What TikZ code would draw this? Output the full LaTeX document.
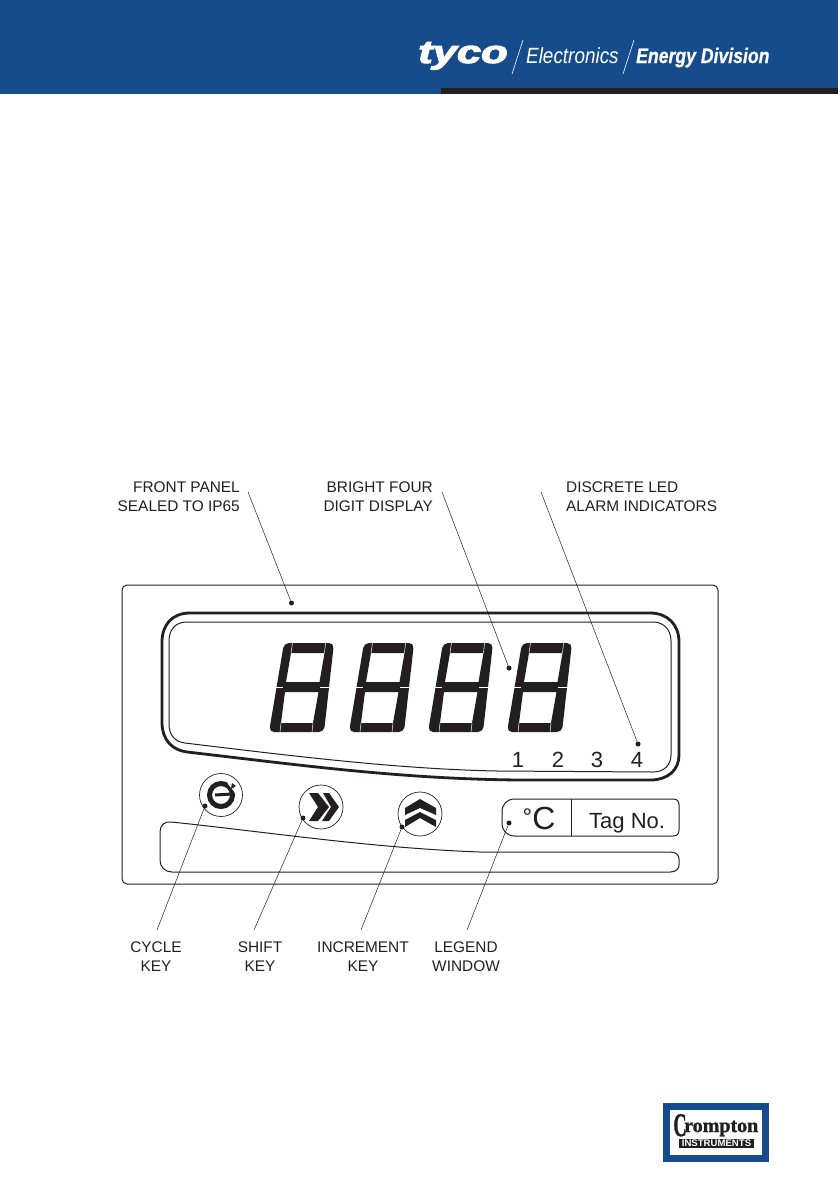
\documentclass[tikz,border=0pt]{standalone}
\usepackage{fontspec}
\setmainfont{Liberation Sans}
\newfontfamily\logoserif[UprightFont=* Bold,FakeBold=1.5]{Liberation Serif}
\newfontfamily\tycofont[UprightFont=* Bold Italic,FakeBold=3]{Liberation Sans}
\newfontfamily\energyfont[UprightFont=* Bold Italic,FakeBold=0.8]{Liberation Sans}
\definecolor{tycoblue}{RGB}{23,76,140}
\definecolor{inkblack}{RGB}{35,31,32}
\tikzset{
    calltext/.style={inner sep=0pt,text=inkblack,font=\fontsize{15.4}{19}\selectfont},
    leader/.style={draw=inkblack,line width=0.5pt},
    leaddot/.style={circle,fill=inkblack,inner sep=0pt,minimum size=5pt},
    keyring/.style={draw=inkblack,line width=0.7pt},
    panelline/.style={draw=inkblack,line width=1pt},
    paneltext/.style={inner sep=0pt,text=inkblack},
    logotext/.style={inner sep=0pt,text=white},
    digit/.pic={
        % outline with the two windows cut out
        \fill[inkblack,even odd rule]
            [rounded corners=5pt] (15,-90) -- (65,-90) -- (55,-1) -- (0,-1) -- cycle
            [sharp corners] (22,-80) -- (55.5,-80) -- (50.5,-51) -- (17,-51) -- cycle
            (16,-41) -- (49.5,-41) -- (44,-10) -- (12,-10) -- cycle;
        % thin gaps between the segments
        \draw[white,line width=0.6pt] (5,-46) -- (14,-46) (51,-46) -- (63,-46);
        \draw[white,line width=0.5pt] (23.5,-90) -- (22,-80) (56.5,-90) -- (55.5,-80)
            (12,-10) -- (11,-1) (44,-10) -- (43,-1);
    }
}
\begin{document}
\begin{tikzpicture}[x=1pt,y=-1pt]
    \useasboundingbox (0,0) rectangle (839,1191);
    \fill[white] (0,0) rectangle (839,1191);

    % Header band
    \fill[tycoblue] (0,0) rectangle (838,94);
    \fill[inkblack] (441,88) rectangle (838,94);
    \node[logotext,font=\tycofont\fontsize{32}{32}\selectfont,xscale=1.36,anchor=base west] (logotyco) at (418,63) {tyco};
    \draw[white,line width=0.6pt] (512,74) -- (523,40);
    \node[logotext,font=\fontsize{22}{22}\selectfont\itshape,xscale=0.86,anchor=base west] (logoelec) at (526,63) {Electronics};
    \draw[white,line width=0.6pt] (623,74) -- (634,40);
    \node[logotext,font=\energyfont\fontsize{21}{21}\selectfont,xscale=0.84,anchor=base west] (logoenergy) at (636,63) {Energy Division};

    % Front panel
    \draw[panelline,rounded corners=5pt] (122,585) rectangle (718,884);

    % Display window, heavy outline then thin one
    \draw[inkblack,line width=2.8pt] (190,613) -- (650,613)
        .. controls (668,613) and (679,625) .. (679,642) -- (679,755)
        .. controls (679,770) and (668,780) .. (650,780) -- (520,780)
        .. controls (400,779) and (300,765) .. (187,752)
        .. controls (172,750) and (162,740) .. (162,722) -- (162,642)
        .. controls (162,625) and (172,613) .. (190,613) -- cycle;
    \draw[panelline] (187,622) -- (653,622)
        .. controls (664,622) and (671,630) .. (671,641) -- (671,755)
        .. controls (671,765) and (664,772) .. (653,772) -- (497,771)
        .. controls (400,769) and (300,757) .. (185,743)
        .. controls (175,742) and (169,735) .. (169,724) -- (169,641)
        .. controls (169,630) and (175,622) .. (187,622) -- cycle;

    % Four digits
    \foreach \xpos in {269,349,428,507}
        \pic at (\xpos,733) {digit};

    % Alarm numbers
    \foreach \xpos/\num in {518/1,558/2,597/3,637/4}
        \node[paneltext,font=\fontsize{22}{22}\selectfont] (alarm\num) at (\xpos,760) {\num};

    % Keys
    \node[keyring,circle,minimum size=43pt,inner sep=0pt] (cyclekey) at (221,795) {};
    \node[keyring,circle,minimum size=44pt,inner sep=0pt] (shiftkey) at (321,807) {};
    \node[keyring,circle,minimum size=44pt,inner sep=0pt] (inckey) at (420,814) {};

    % Cycle symbol
    \draw[inkblack,line width=5pt] (221,795) circle (11.5);
    \draw[white,line width=1.2pt] (228,783) -- (236,793);
    \fill[inkblack] (232,783) -- (236,786) -- (231,789) -- cycle;
    \draw[inkblack,line width=3pt] (215,795) -- (232,794);

    % Shift symbol
    \fill[inkblack] (309,793) -- (318,793) -- (329,807) -- (318,821) -- (309,821) -- (318,807) -- cycle;
    \fill[inkblack] (323,793) -- (329,793) -- (339,807) -- (329,821) -- (322,821) -- (331,807) -- cycle;

    % Increment symbol
    \fill[inkblack] (405,808) -- (420,799) -- (436,808) -- (436,815) -- (420,808) -- (405,815) -- cycle;
    \fill[inkblack] (405,820) -- (420,812) -- (436,820) -- (436,827) -- (420,818) -- (405,827) -- cycle;

    % Legend window
    \draw[panelline] (515,799) -- (673,799)
        .. controls (677,799) and (679,801) .. (679,805) -- (679,830)
        .. controls (679,834) and (677,836) .. (673,836) -- (515,836)
        .. controls (507,836) and (502,831) .. (502,823) -- (502,812)
        .. controls (502,804) and (507,799) .. (515,799) -- cycle;
    \draw[panelline] (571,799) -- (571,836);
    \node[paneltext,font=\fontsize{32}{32}\selectfont,anchor=base] (degtext) at (539,829) {\raisebox{4pt}{\fontsize{24}{24}\selectfont°}C};
    \node[paneltext,font=\fontsize{22}{22}\selectfont,anchor=base west] (tagtext) at (589,828) {Tag No.};

    % Lower strip
    \draw[panelline] (171,822) .. controls (260,831) and (370,848) .. (480,852) -- (670,852)
        .. controls (676,852) and (679,855) .. (679,859) -- (679,865)
        .. controls (679,869) and (676,872) .. (670,872) -- (172,872)
        .. controls (165,872) and (160,867) .. (160,860) -- (160,832)
        .. controls (160,825) and (165,821) .. (171,822) -- cycle;

    % Top labels
    \node[calltext,align=right,anchor=east] (frontlabel) at (240,497) {FRONT PANEL\\SEALED TO IP65};
    \node[calltext,align=right,anchor=east] (brightlabel) at (433,497) {BRIGHT FOUR\\DIGIT DISPLAY};
    \node[calltext,align=left,anchor=west] (alarmlabel) at (566,497) {DISCRETE LED\\ALARM INDICATORS};

    % Bottom labels
    \node[calltext,align=center] (cyclelabel) at (156,957) {CYCLE\\KEY};
    \node[calltext,align=center] (shiftlabel) at (260,957) {SHIFT\\KEY};
    \node[calltext,align=center] (inclabel) at (363,957) {INCREMENT\\KEY};
    \node[calltext,align=center] (legendlabel) at (466,957) {LEGEND\\WINDOW};

    % Leader ends
    \node[leaddot] (frontdot) at (291.5,603) {};
    \node[leaddot] (brightdot) at (509,668) {};
    \node[leaddot] (alarmdot) at (638,744) {};
    \node[leaddot] (cycledot) at (205,806) {};
    \node[leaddot] (shiftdot) at (303,818) {};
    \node[leaddot] (incdot) at (402,827) {};
    \node[leaddot] (legenddot) at (509,823) {};
    \coordinate (frontend) at (248,492);
    \coordinate (brightend) at (442,492);
    \coordinate (alarmend) at (541,492);
    \coordinate (cycleend) at (157,930);
    \coordinate (shiftend) at (254,930);
    \coordinate (incend) at (361,930);
    \coordinate (legendend) at (467,930);

    % Leaders
    \draw[leader] (frontend) -- (frontdot);
    \draw[leader] (brightend) -- (brightdot);
    \draw[leader] (alarmend) -- (alarmdot);
    \draw[leader] (cycleend) -- (cycledot);
    \draw[leader] (shiftend) -- (shiftdot);
    \draw[leader] (incend) -- (incdot);
    \draw[leader] (legendend) -- (legenddot);

    % Crompton badge
    \draw[tycoblue,line width=7pt] (666.5,1106.5) rectangle (765.5,1158.5);
    \node[inner sep=0pt,text=inkblack,font=\logoserif\fontsize{33}{33}\selectfont,xscale=0.55,anchor=base] (badgec) at (680,1136) {C};
    \node[inner sep=0pt,text=inkblack,font=\logoserif\fontsize{20}{20}\selectfont,anchor=base west] (badgetext) at (684,1132) {rompton};
    \node[fill=inkblack,text=white,inner sep=0pt,minimum width=75pt,minimum height=9pt,font=\fontsize{9.6}{10}\selectfont\bfseries] (badgebar) at (716.5,1143.5) {INSTRUMENTS};
\end{tikzpicture}
\end{document}
